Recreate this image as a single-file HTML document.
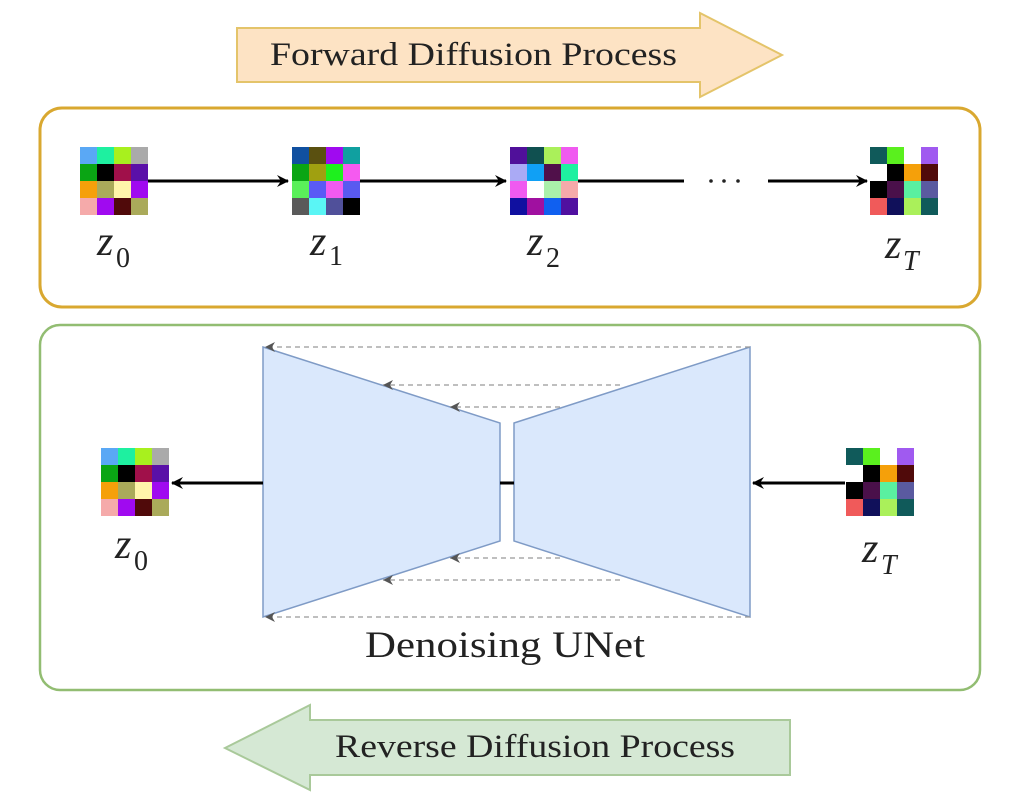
<!DOCTYPE html>
<html><head><meta charset="utf-8"><style>
html,body{margin:0;padding:0;background:#fff;width:1022px;height:802px;overflow:hidden}
svg{display:block}
svg text{font-family:'Liberation Serif','Times New Roman',Times,serif}
</style></head><body>
<svg width="1022" height="802" viewBox="0 0 1022 802" xmlns="http://www.w3.org/2000/svg">
<defs>
<marker id="ah" markerWidth="12" markerHeight="12" refX="11" refY="6" orient="auto" markerUnits="userSpaceOnUse">
<path d="M0,0 L12,6 L0,12 L4,6 Z" fill="#000"/></marker>
<marker id="gh" markerWidth="10" markerHeight="10" refX="10" refY="5" orient="auto" markerUnits="userSpaceOnUse">
<path d="M0,0 L10,5 L0,10 L3,5 Z" fill="#555"/></marker>
</defs>
<polygon points="237,28 700,28 700,13 782,55 700,97 700,82 237,82" fill="#fde3c4" stroke="#e4c46a" stroke-width="2"/>
<text x="270" y="65" font-size="33" fill="#222" textLength="407" lengthAdjust="spacingAndGlyphs">Forward Diffusion Process</text>
<rect x="40" y="108" width="940" height="199" rx="22" fill="none" stroke="#d9a830" stroke-width="3"/>
<rect x="40" y="325" width="940" height="365" rx="20" fill="none" stroke="#92bd72" stroke-width="2.5"/>
<g stroke="#000" stroke-width="3">
<line x1="148" y1="181" x2="288" y2="181" marker-end="url(#ah)"/>
<line x1="360" y1="181" x2="506" y2="181" marker-end="url(#ah)"/>
<line x1="578" y1="181" x2="684" y2="181"/>
<line x1="768" y1="181" x2="867" y2="181" marker-end="url(#ah)"/>
</g>
<circle cx="711" cy="181" r="1.8" fill="#222"/><circle cx="724" cy="181" r="1.8" fill="#222"/><circle cx="738" cy="181" r="1.8" fill="#222"/>
<g id="g0" transform="translate(80,147)">
<rect x="0" y="0" width="17" height="17" fill="#5aa8f5"/><rect x="17" y="0" width="17" height="17" fill="#1ef0a0"/><rect x="34" y="0" width="17" height="17" fill="#a8f01e"/><rect x="51" y="0" width="17" height="17" fill="#aaaaaa"/>
<rect x="0" y="17" width="17" height="17" fill="#0aa514"/><rect x="17" y="17" width="17" height="17" fill="#000"/><rect x="34" y="17" width="17" height="17" fill="#a0104a"/><rect x="51" y="17" width="17" height="17" fill="#5a10a8"/>
<rect x="0" y="34" width="17" height="17" fill="#f5a00a"/><rect x="17" y="34" width="17" height="17" fill="#aaaa5a"/><rect x="34" y="34" width="17" height="17" fill="#fff5aa"/><rect x="51" y="34" width="17" height="17" fill="#a00af0"/>
<rect x="0" y="51" width="17" height="17" fill="#f5aaaa"/><rect x="17" y="51" width="17" height="17" fill="#a00af0"/><rect x="34" y="51" width="17" height="17" fill="#500a0a"/><rect x="51" y="51" width="17" height="17" fill="#aaaa5a"/>
</g>
<g transform="translate(292,147)">
<rect x="0" y="0" width="17" height="17" fill="#1050a0"/><rect x="17" y="0" width="17" height="17" fill="#5a5010"/><rect x="34" y="0" width="17" height="17" fill="#a00af0"/><rect x="51" y="0" width="17" height="17" fill="#10a0a0"/>
<rect x="0" y="17" width="17" height="17" fill="#0aa514"/><rect x="17" y="17" width="17" height="17" fill="#a0a010"/><rect x="34" y="17" width="17" height="17" fill="#1ef01e"/><rect x="51" y="17" width="17" height="17" fill="#f55af0"/>
<rect x="0" y="34" width="17" height="17" fill="#5af05a"/><rect x="17" y="34" width="17" height="17" fill="#5a5af5"/><rect x="34" y="34" width="17" height="17" fill="#f05af0"/><rect x="51" y="34" width="17" height="17" fill="#5a5af0"/>
<rect x="0" y="51" width="17" height="17" fill="#5a5a5a"/><rect x="17" y="51" width="17" height="17" fill="#5af5f5"/><rect x="34" y="51" width="17" height="17" fill="#50509a"/><rect x="51" y="51" width="17" height="17" fill="#000"/>
</g>
<g transform="translate(510,147)">
<rect x="0" y="0" width="17" height="17" fill="#50109a"/><rect x="17" y="0" width="17" height="17" fill="#105050"/><rect x="34" y="0" width="17" height="17" fill="#aaf05a"/><rect x="51" y="0" width="17" height="17" fill="#f05af0"/>
<rect x="0" y="17" width="17" height="17" fill="#aaaaf5"/><rect x="17" y="17" width="17" height="17" fill="#10a0f5"/><rect x="34" y="17" width="17" height="17" fill="#50104a"/><rect x="51" y="17" width="17" height="17" fill="#1ef0a0"/>
<rect x="0" y="34" width="17" height="17" fill="#f05af0"/><rect x="17" y="34" width="17" height="17" fill="#ffffff"/><rect x="34" y="34" width="17" height="17" fill="#aaf0aa"/><rect x="51" y="34" width="17" height="17" fill="#f5aaaa"/>
<rect x="0" y="51" width="17" height="17" fill="#1010a0"/><rect x="17" y="51" width="17" height="17" fill="#a010a0"/><rect x="34" y="51" width="17" height="17" fill="#1060f0"/><rect x="51" y="51" width="17" height="17" fill="#5010a0"/>
</g>
<g id="gT" transform="translate(870,147)">
<rect x="0" y="0" width="17" height="17" fill="#105a5a"/><rect x="17" y="0" width="17" height="17" fill="#5af01e"/><rect x="51" y="0" width="17" height="17" fill="#a05af0"/>
<rect x="17" y="17" width="17" height="17" fill="#000"/><rect x="34" y="17" width="17" height="17" fill="#f5a00a"/><rect x="51" y="17" width="17" height="17" fill="#500a0a"/>
<rect x="0" y="34" width="17" height="17" fill="#000"/><rect x="17" y="34" width="17" height="17" fill="#4a104a"/><rect x="34" y="34" width="17" height="17" fill="#5af0a0"/><rect x="51" y="34" width="17" height="17" fill="#5a5aa0"/>
<rect x="0" y="51" width="17" height="17" fill="#f05a5a"/><rect x="17" y="51" width="17" height="17" fill="#10105a"/><rect x="34" y="51" width="17" height="17" fill="#aaf05a"/><rect x="51" y="51" width="17" height="17" fill="#105a5a"/>
</g>
<use href="#g0" transform="translate(21,301)"/>
<use href="#gT" transform="translate(-24,301)"/>
<g font-size="42" font-style="italic" fill="#222">
<text x="97" y="255">z</text><text x="310" y="255">z</text><text x="527" y="255">z</text><text x="885" y="258">z</text>
<text x="115" y="558">z</text><text x="862" y="562">z</text>
</g>
<g font-size="28" fill="#222">
<text x="116" y="267">0</text><text x="329" y="265">1</text><text x="546" y="267">2</text><text x="134" y="570">0</text>
</g>
<g font-size="28" font-style="italic" fill="#222"><text x="903" y="270">T</text><text x="881" y="574">T</text></g>
<polygon points="263,347 500,423 500,541 263,617" fill="#dae8fc" stroke="#7f9bc6" stroke-width="1.5"/>
<polygon points="514,423 750,347 750,617 514,541" fill="#dae8fc" stroke="#7f9bc6" stroke-width="1.5"/>
<g stroke="#999" stroke-width="1.3" stroke-dasharray="5,4" fill="none">
<line x1="750" y1="347" x2="265" y2="347" marker-end="url(#gh)"/>
<line x1="620" y1="385" x2="383" y2="385" marker-end="url(#gh)"/>
<line x1="560" y1="407" x2="450" y2="407" marker-end="url(#gh)"/>
<line x1="560" y1="558" x2="450" y2="558" marker-end="url(#gh)"/>
<line x1="620" y1="580" x2="383" y2="580" marker-end="url(#gh)"/>
<line x1="750" y1="617" x2="265" y2="617" marker-end="url(#gh)"/>
</g>
<g stroke="#000" stroke-width="3">
<line x1="263" y1="483" x2="172" y2="483" marker-end="url(#ah)"/>
<line x1="845" y1="483" x2="753" y2="483" marker-end="url(#ah)"/>
<line x1="500" y1="483" x2="514" y2="483"/>
</g>
<text x="365" y="657" font-size="37" fill="#222" textLength="280" lengthAdjust="spacingAndGlyphs">Denoising UNet</text>
<polygon points="225,748 310,705 310,720 790,720 790,775 310,775 310,790" fill="#d5e8d4" stroke="#a9c99a" stroke-width="2"/>
<text x="335" y="757" font-size="33" fill="#222" textLength="400" lengthAdjust="spacingAndGlyphs">Reverse Diffusion Process</text>
</svg>
</body></html>
